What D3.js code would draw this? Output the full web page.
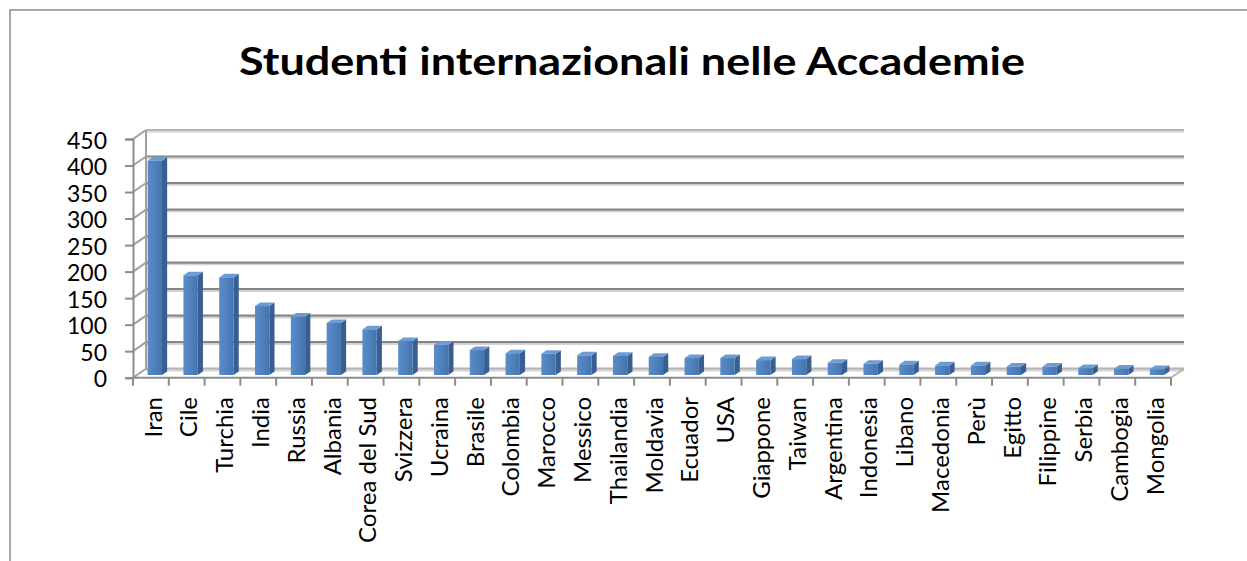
<!DOCTYPE html>
<html>
<head>
<meta charset="utf-8">
<script src="https://cdn.jsdelivr.net/npm/d3@7"></script>
<style>
  body { margin: 0; background: #fff; }
  svg { display: block; }
</style>
</head>
<body>
<svg width="1247" height="561"></svg>
<script>
// dati (numero di studenti per paese)
var paesi = ["Iran", "Cile", "Turchia", "India", "Russia", "Albania", "Corea del Sud",
  "Svizzera", "Ucraina", "Brasile", "Colombia", "Marocco", "Messico", "Thailandia",
  "Moldavia", "Ecuador", "USA", "Giappone", "Taiwan", "Argentina", "Indonesia",
  "Libano", "Macedonia", "Perù", "Egitto", "Filippine", "Serbia", "Cambogia", "Mongolia"];
var studenti = [404, 188, 184, 130, 110, 98, 86, 64, 57, 47, 41, 40, 37, 36,
  34, 32, 32, 28, 30, 23, 21, 20, 18, 18, 16, 16, 13, 12, 11];
var yTicks = [0, 50, 100, 150, 200, 250, 300, 350, 400, 450];
var titolo = "Studenti internazionali nelle Accademie";

var svg = d3.select("svg");
var font = "Lato, 'Open Sans', sans-serif";

// finto 3D: spostamento della parete di fondo
var dx = 13, dy = -9;
var f0 = 0.3, f1 = 0.7;   // profondità delle barre

var x = d3.scaleBand().domain(paesi).range([133, 1171])
  .paddingInner(0.6).paddingOuter(0.3);
var xCat = d3.scaleBand().domain(paesi).range([133, 1171]);
var y = d3.scaleLinear().domain([0, 450]).range([377.7, 139]);

// cornice
svg.append("rect")
  .attr("x", 10).attr("y", 10).attr("width", 1260).attr("height", 580)
  .style("fill", "none").style("stroke", "#8c8c8c").style("stroke-width", 1.5);

// titolo
svg.append("text")
  .attr("x", 632).attr("y", 75)
  .attr("text-anchor", "middle")
  .attr("textLength", 786).attr("lengthAdjust", "spacingAndGlyphs")
  .style("font-family", font)
  .style("font-weight", "bold")
  .style("font-size", "39px")
  .text(titolo);

var defs = svg.append("defs");
var grad = defs.append("linearGradient").attr("id", "front")
  .attr("x1", "0%").attr("x2", "100%").attr("y1", "0%").attr("y2", "0%");
grad.append("stop").attr("offset", "0%").attr("stop-color", "#5b8ccb");
grad.append("stop").attr("offset", "50%").attr("stop-color", "#4f81bd");
grad.append("stop").attr("offset", "100%").attr("stop-color", "#4474ae");

// parete di fondo e griglia
var grid = svg.append("g").classed("grid", true);
var x0 = x.range()[0], x1 = x.range()[1];

grid.selectAll("line.shadow").data(yTicks).enter()
  .append("line").classed("shadow", true)
  .attr("x1", x0 + dx).attr("x2", x1 + dx)
  .attr("y1", function(d){ return y(d) + dy + 2; })
  .attr("y2", function(d){ return y(d) + dy + 2; })
  .style("stroke", "#d4d4d4").style("stroke-width", 1.5);

grid.selectAll("line.main").data(yTicks).enter()
  .append("line").classed("main", true)
  .attr("x1", x0 + dx).attr("x2", x1 + dx)
  .attr("y1", function(d){ return y(d) + dy; })
  .attr("y2", function(d){ return y(d) + dy; })
  .style("stroke", function(d){ return (d == 0 || d == 450) ? "#b4b4b4" : "#868686"; })
  .style("stroke-width", 2.2);

// parete sinistra: bordo di fondo e diagonali
grid.append("line")
  .attr("x1", x0 + dx).attr("x2", x0 + dx)
  .attr("y1", y(450) + dy).attr("y2", y(0) + dy)
  .style("stroke", "#a0a0a0").style("stroke-width", 2);

grid.selectAll("line.diag").data(yTicks).enter()
  .append("line").classed("diag", true)
  .attr("x1", x0).attr("x2", x0 + dx)
  .attr("y1", function(d){ return y(d); })
  .attr("y2", function(d){ return y(d) + dy; })
  .style("stroke", "#a0a0a0").style("stroke-width", 2);

// pavimento, lato destro
grid.append("line")
  .attr("x1", x1).attr("x2", x1 + dx)
  .attr("y1", y(0)).attr("y2", y(0) + dy)
  .style("stroke", "#b4b4b4").style("stroke-width", 2);

// barre
var bw = x.bandwidth();
var bars = svg.append("g").classed("bars", true)
  .selectAll("g").data(paesi).enter().append("g");

function pts(a){ return a.map(function(p){ return p.join(","); }).join(" "); }

bars.each(function(d, i){
  var g = d3.select(this);
  var v = studenti[i];
  var xl = x(d) + dx * f0, xr = xl + bw;
  var yt = y(v) + dy * f0, yb = y(0) + dy * f0;
  var ox = dx * (f1 - f0), oy = dy * (f1 - f0);
  g.append("polygon")
    .attr("points", pts([[xr, yt], [xr + ox, yt + oy], [xr + ox, yb + oy], [xr, yb]]))
    .style("fill", "#375f92");
  g.append("polygon")
    .attr("points", pts([[xl, yt], [xl + ox, yt + oy], [xr + ox, yt + oy], [xr, yt]]))
    .style("fill", "#6f9bd4");
  g.append("rect")
    .attr("x", xl).attr("y", yt)
    .attr("width", bw).attr("height", yb - yt)
    .style("fill", "url(#front)");
});

// asse Y
var yAxis = svg.append("g")
  .attr("transform", "translate(" + x0 + ",0)")
  .call(d3.axisLeft(y).tickValues(yTicks).tickSize(8).tickPadding(18));
yAxis.select(".domain").style("stroke", "#8c8c8c").style("stroke-width", 2);
yAxis.selectAll(".tick line").style("stroke", "#8c8c8c").style("stroke-width", 2);
yAxis.selectAll(".tick text")
  .attr("dy", "0.4em")
  .style("font-family", font)
  .style("font-size", "23px")
  .style("fill", "#000");

// asse X
var xAxis = svg.append("g").classed("xaxis", true);
xAxis.append("line")
  .attr("x1", x0).attr("x2", x1)
  .attr("y1", y(0)).attr("y2", y(0))
  .style("stroke", "#8c8c8c").style("stroke-width", 2);

var bordi = paesi.map(function(d){ return xCat(d); }).concat([x1]);
xAxis.selectAll("line.tick").data(bordi).enter()
  .append("line").classed("tick", true)
  .attr("x1", function(d){ return d; }).attr("x2", function(d){ return d; })
  .attr("y1", y(0)).attr("y2", y(0) + 8)
  .style("stroke", "#8c8c8c").style("stroke-width", 2);

xAxis.selectAll("text").data(paesi).enter()
  .append("text")
  .attr("transform", function(d){
    return "translate(" + (xCat(d) + xCat.bandwidth() / 2 + 2) + ",397) rotate(-90)";
  })
  .attr("text-anchor", "end")
  .attr("dy", "0.36em")
  .style("font-family", font)
  .style("font-size", "24px")
  .style("fill", "#000")
  .text(function(d){ return d; });
</script>
</body>
</html>
